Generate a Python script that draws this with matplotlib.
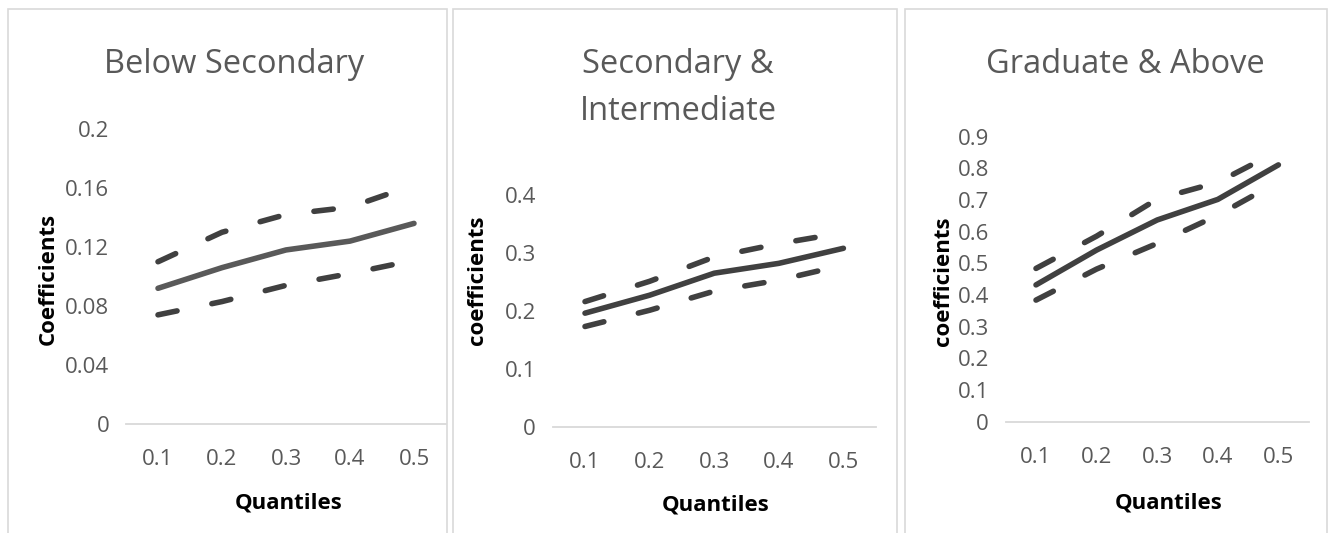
import matplotlib
matplotlib.use("Agg")
import matplotlib.pyplot as plt
from matplotlib.patches import Rectangle

W, H = 1331, 533

quantiles = ["0.1", "0.2", "0.3", "0.4", "0.5"]

# Below Secondary
below_coef = [0.092, 0.106, 0.118, 0.124, 0.136]
below_upper = [0.110, 0.130, 0.142, 0.147, 0.162]
below_lower = [0.074, 0.083, 0.094, 0.102, 0.111]
below_ticks = [0, 0.04, 0.08, 0.12, 0.16, 0.2]
below_ticklabels = ["0", "0.04", "0.08", "0.12", "0.16", "0.2"]

# Secondary & Intermediate
sec_coef = [0.196, 0.227, 0.265, 0.282, 0.308]
sec_upper = [0.216, 0.251, 0.293, 0.316, 0.335]
sec_lower = [0.173, 0.201, 0.234, 0.253, 0.279]
sec_ticks = [0, 0.1, 0.2, 0.3, 0.4]
sec_ticklabels = ["0", "0.1", "0.2", "0.3", "0.4"]

# Graduate & Above
grad_coef = [0.432, 0.542, 0.637, 0.702, 0.811]
grad_upper = [0.484, 0.586, 0.703, 0.756, 0.855]
grad_lower = [0.384, 0.482, 0.563, 0.652, 0.758]
grad_ticks = [0, 0.1, 0.2, 0.3, 0.4, 0.5, 0.6, 0.7, 0.8, 0.9]
grad_ticklabels = ["0", "0.1", "0.2", "0.3", "0.4", "0.5", "0.6", "0.7", "0.8", "0.9"]

plt.rcParams['font.family'] = ['Open Sans', 'DejaVu Sans']

fig = plt.figure(figsize=(W / 100, H / 100), dpi=100)


def px_rect(left, top, right, bottom):
    return [left / W, 1 - bottom / H, (right - left) / W, (bottom - top) / H]


# panel borders (drawn in pixels, running off the bottom)
for left, right in [(8, 447), (453, 897), (905, 1327)]:
    fig.patches.append(Rectangle((left / W, -0.1), (right - left) / W, 1.1 - 9 / H,
                                 transform=fig.transFigure, fill=False,
                                 edgecolor='#d9d9d9', linewidth=1.2))

panels = [
    dict(rect=(126, 129, 446, 424), coef=below_coef, up=below_upper, lo=below_lower,
         ticks=below_ticks, labels=below_ticklabels, top=0.2, mid_color='#595959',
         title=["Below Secondary"], tx=234, ty=[73],
         ylab="Coefficients", yl=(48, 279), xl=(289, 508)),
    dict(rect=(552.7, 195, 875.7, 426.7), coef=sec_coef, up=sec_upper, lo=sec_lower,
         ticks=sec_ticks, labels=sec_ticklabels, top=0.4, mid_color='#404040',
         title=["Secondary &", "Intermediate"], tx=678, ty=[73, 120],
         ylab="coefficients", yl=(477, 280), xl=(716, 511)),
    dict(rect=(1005.7, 136.7, 1308.7, 421.7), coef=grad_coef, up=grad_upper, lo=grad_lower,
         ticks=grad_ticks, labels=grad_ticklabels, top=0.9, mid_color='#404040',
         title=["Graduate & Above"], tx=1125, ty=[73],
         ylab="coefficients", yl=(943, 281), xl=(1169, 508)),
]

x = list(range(len(quantiles)))

for p in panels:
    ax = fig.add_axes(px_rect(*p['rect']))
    ax.plot(x, p['coef'], color=p['mid_color'], linewidth=4, solid_capstyle='round')
    for band in (p['up'], p['lo']):
        ax.plot(x, band, color='#404040', linewidth=4,
                linestyle=(0, (3.5, 6.4)), dash_capstyle='round')
    ax.set_xlim(-0.5, len(quantiles) - 0.5)
    ax.set_ylim(0, p['top'])
    ax.set_xticks(x)
    ax.set_xticklabels(quantiles)
    ax.set_yticks(p['ticks'])
    ax.set_yticklabels(p['labels'])
    ax.tick_params(length=0, labelsize=16, labelcolor='#595959')
    ax.tick_params(axis='y', pad=12)
    ax.tick_params(axis='x', pad=18)
    for side in ('top', 'left', 'right'):
        ax.spines[side].set_visible(False)
    ax.spines['bottom'].set_color('#d9d9d9')
    ax.spines['bottom'].set_linewidth(1.3)
    ax.patch.set_alpha(0)

    for line, ty in zip(p['title'], p['ty']):
        fig.text(p['tx'] / W, 1 - ty / H, line, ha='center', va='baseline',
                 fontsize=23.5, color='#595959')
    fig.text(p['yl'][0] / W, 1 - p['yl'][1] / H, p['ylab'], rotation=90,
             ha='center', va='center', fontsize=16, fontweight='bold', color='black')
    fig.text(p['xl'][0] / W, 1 - p['xl'][1] / H, "Quantiles", ha='center',
             va='baseline', fontsize=16, fontweight='bold', color='black')

fig.savefig("out.png", dpi=100)
